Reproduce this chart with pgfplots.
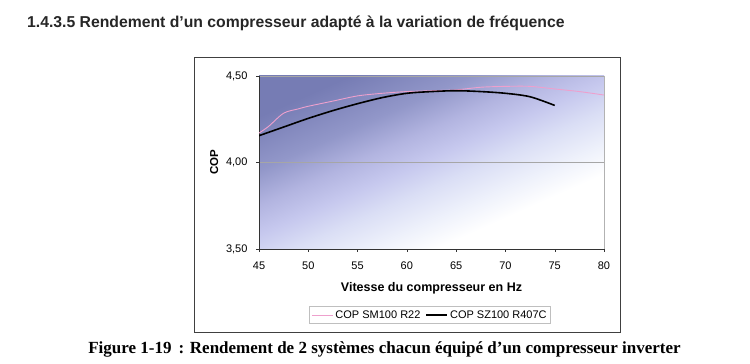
\documentclass[border=0pt]{standalone}
\usepackage{fontspec}
\setmainfont{Liberation Sans}
\newfontfamily\capfont{Liberation Serif}
\usepackage{pgfplots}
\pgfplotsset{compat=1.18}
\definecolor{pinkline}{RGB}{238,160,205}
\pgfdeclareverticalshading{copbg}{100bp}{%
  color(0bp)=(white);
  color(32bp)=(white);
  color(38bp)=(rgb,255:red,238;green,241;blue,251);
  color(45bp)=(rgb,255:red,218;green,222;blue,245);
  color(51bp)=(rgb,255:red,198;green,200;blue,238);
  color(57bp)=(rgb,255:red,178;green,180;blue,224);
  color(64bp)=(rgb,255:red,146;green,151;blue,201);
  color(75bp)=(rgb,255:red,118;green,124;blue,180);
  color(100bp)=(rgb,255:red,118;green,124;blue,180)}
\begin{document}
\begin{tikzpicture}[x=1pt,y=1pt]
\useasboundingbox (0,0) rectangle (750,364);
\node[anchor=base west,font=\fontsize{15.75}{18}\selectfont\bfseries,text=black!85,inner sep=0pt] at (27,336) {1.4.3.5 Rendement d’un compresseur adapté à la variation de fréquence};
\draw[black!75,line width=0.9pt] (194,364-57) rectangle (620,364-332);
\begin{axis}[
  at={(259pt,115pt)}, anchor=south west,
  scale only axis, width=345pt, height=173pt,
  xmin=45, xmax=80, ymin=3.5, ymax=4.5,
  xtick={45,50,...,80}, ytick={3.5,4,4.5},
  axis x line*=bottom, axis y line*=left,
  axis line style={black!80, line width=0.6pt},
  tick style={black!80},
  tick align=outside, major tick length=3pt,
  ymajorgrids, grid style={black!35, line width=0.4pt},
  /pgf/number format/assume math mode=true,
  yticklabel style={/pgf/number format/.cd, fixed, fixed zerofill, precision=2, use comma, /tikz/.cd, xshift=-5pt},
  xticklabel style={yshift=-6pt},
  ticklabel style={font=\fontsize{11}{13}\selectfont},
  xlabel={\bfseries Vitesse du compresseur en Hz},
  ylabel={\bfseries COP},
  xlabel style={font=\fontsize{12.5}{14}\selectfont, at={(0.5,-0.225)}, anchor=center},
  ylabel style={font=\fontsize{11.5}{14}\selectfont, at={(-0.130,0.5)}, anchor=center},
  axis background/.style={shade, shading=copbg, shading angle=24, draw=black!30},
  legend columns=2,
  legend style={at={(0.496,-0.382)}, anchor=center, draw=black!25, fill=white, font=\fontsize{11}{13}\selectfont, inner sep=2pt, /tikz/every even column/.append style={column sep=3pt}},
  legend image code/.code={\draw[#1] (0pt,0pt) -- (21pt,0pt);},
]
\addplot[pinkline, line width=0.9pt, smooth] coordinates {
(45,4.17) (46,4.21) (47.5,4.285) (49,4.31) (50,4.325) (52.5,4.355) (55,4.385) (57.5,4.40) (60,4.41) (62.5,4.415) (65,4.42) (67.5,4.435) (70,4.44) (72.5,4.44) (75,4.425) (77.5,4.41) (80,4.39)};
\addlegendentry{COP SM100 R22}
\addplot[black, line width=1.6pt, smooth] coordinates {
(45,4.155) (47.5,4.205) (50,4.255) (52.5,4.30) (55,4.34) (57.5,4.375) (60,4.40) (62.5,4.41) (65,4.415) (67.5,4.41) (70,4.40) (72.5,4.38) (75,4.33)};
\addlegendentry{COP SZ100 R407C}
\end{axis}
\node[font=\capfont\fontsize{17}{19}\selectfont\bfseries] at (384.5,364-349) {Figure 1-19 \,: Rendement de 2 systèmes chacun équipé d’un compresseur inverter};
\end{tikzpicture}
\end{document}
